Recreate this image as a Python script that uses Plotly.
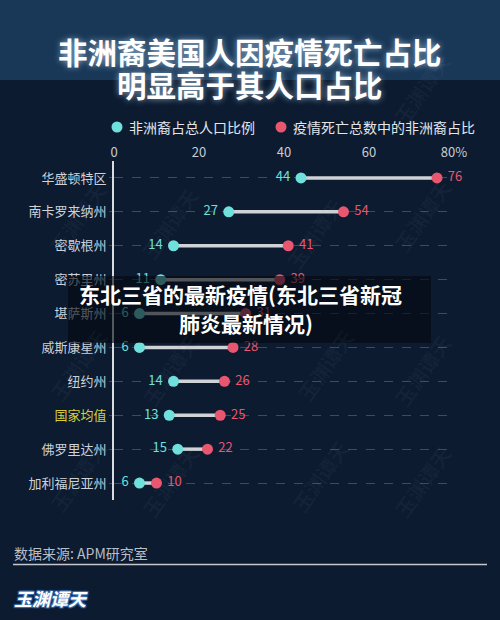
import plotly.graph_objects as go

# ---------------- data ----------------
states = ["华盛顿特区", "南卡罗来纳州", "密歇根州", "密苏里州", "堪萨斯州",
          "威斯康星州", "纽约州", "国家均值", "佛罗里达州", "加利福尼亚州"]
pop_share = [44, 27, 14, 11, 6, 6, 14, 13, 15, 6]          # 非洲裔占总人口比例
death_share = [76, 54, 41, 39, 31, 28, 26, 25, 22, 10]     # 疫情死亡总数中的非洲裔占比
x_tickvals = [0, 20, 40, 60, 80]
x_ticktext = ["0", "20", "40", "60", "80%"]
legend_names = ["非洲裔占总人口比例", "疫情死亡总数中的非洲裔占比"]
title_lines = ["非洲裔美国人因疫情死亡占比", "明显高于其人口占比"]
overlay_lines = ["东北三省的最新疫情(东北三省新冠", "肺炎最新情况)"]
source_text = "数据来源: APM研究室"
logo_text = "玉渊谭天"
highlight = "国家均值"

# ---------------- style ----------------
W, H = 500, 620
FONT = "Noto Sans CJK SC"
BG = "#0c1b30"
BAND = "#193757"
CYAN = "#6fe0dc"
RED = "#e9566f"
LINE = "#cfd2d6"
LABEL = "#cdd2d9"
YELLOW = "#d9cd3a"


def px(x):
    return x / W


def py(y):
    return 1 - y / H


fig = go.Figure()

# connectors
cx, cy = [], []
for s, a, b in zip(states, pop_share, death_share):
    cx += [a, b, None]
    cy += [s, s, None]
fig.add_trace(go.Scatter(x=cx, y=cy, mode="lines",
                         line=dict(color=LINE, width=3.5),
                         hoverinfo="skip", showlegend=False, cliponaxis=False))

fig.add_trace(go.Scatter(x=pop_share, y=states, mode="markers+text",
                         marker=dict(color=CYAN, size=11),
                         text=[str(v) + " " for v in pop_share],
                         textposition="middle left",
                         textfont=dict(family=FONT, size=13, color=CYAN),
                         name=legend_names[0], showlegend=False, cliponaxis=False))
fig.add_trace(go.Scatter(x=death_share, y=states, mode="markers+text",
                         marker=dict(color=RED, size=11),
                         text=[" " + str(v) for v in death_share],
                         textposition="middle right",
                         textfont=dict(family=FONT, size=13, color=RED),
                         name=legend_names[1], showlegend=False, cliponaxis=False))

ticktext_y = [f'<span style="color:{YELLOW}">{s}</span>' if s == highlight else s
              for s in states]

shapes = []
annotations = []

# title band
shapes.append(dict(type="rect", xref="paper", yref="paper",
                   x0=0, x1=1, y0=py(80), y1=1,
                   fillcolor=BAND, line=dict(width=0), layer="below"))

# watermarks (kept inside the page so they do not push the margins)
wm_pos = [(460, 45), (40, 175), (170, 180), (315, 190), (460, 215),
          (40, 365), (170, 370), (325, 365), (460, 370),
          (40, 520), (170, 525), (320, 520), (460, 525)]
for (x, y) in wm_pos:
    annotations.append(dict(x=px(x), y=py(y), xref="paper", yref="paper",
                            text=logo_text, showarrow=False, textangle=-55,
                            font=dict(family=FONT, size=20, color="rgba(140,160,190,0.06)",
                                      weight="bold")))

# title lines
for line, yy in zip(title_lines, [28, 61]):
    annotations.append(dict(x=0.5, y=py(yy), xref="paper", yref="paper",
                            text=line, showarrow=False,
                            font=dict(family=FONT, size=29.5, color="#ffffff", weight="bold",
                                      shadow="0px 0px 6px rgba(200,230,255,0.7)")))

# legend
for (cxp, txp, name, col) in [(117, 127, legend_names[0], CYAN),
                              (281, 291, legend_names[1], RED)]:
    shapes.append(dict(type="circle", xref="paper", yref="paper",
                       xsizemode="pixel", ysizemode="pixel",
                       xanchor=px(cxp), yanchor=py(127),
                       x0=-5.5, x1=5.5, y0=-5.5, y1=5.5,
                       fillcolor=col, line=dict(width=0)))
    annotations.append(dict(x=px(txp), y=py(127), xref="paper", yref="paper",
                            xanchor="left", yanchor="middle",
                            text=name, showarrow=False,
                            font=dict(family=FONT, size=14, color="#e2e6ea")))

# overlay box
shapes.append(dict(type="rect", xref="paper", yref="paper",
                   x0=px(68), x1=px(431), y0=py(343), y1=py(276),
                   fillcolor="rgba(3,8,14,0.62)", line=dict(width=0), layer="above"))
for line, (xx, yy) in zip(overlay_lines, [(240, 294), (246, 323)]):
    annotations.append(dict(x=px(xx), y=py(yy), xref="paper", yref="paper",
                            text=line, showarrow=False,
                            font=dict(family=FONT, size=21, color="#ffffff", weight="bold")))

# source + rule
annotations.append(dict(x=px(12), y=py(553), xref="paper", yref="paper",
                        xanchor="left", yanchor="middle", text=source_text,
                        showarrow=False,
                        font=dict(family=FONT, size=14, color="#b9bec6")))
shapes.append(dict(type="line", xref="paper", yref="paper",
                   x0=px(13), x1=px(487), y0=py(564.5), y1=py(564.5),
                   line=dict(color="#c4c8cd", width=1.5)))
# logo
annotations.append(dict(x=px(12), y=py(598), xref="paper", yref="paper",
                        xanchor="left", yanchor="middle", text=f"<i>{logo_text}</i>",
                        showarrow=False,
                        font=dict(family=FONT, size=18, color="#ffffff", weight="bold",
                                  shadow="1px 1px 1px #3a6fb0, -1px -1px 1px #3a6fb0, 1px -1px 1px #3a6fb0, -1px 1px 1px #3a6fb0")))

fig.update_layout(
    width=W, height=H,
    margin=dict(l=0, r=0, t=0, b=0, autoexpand=False),
    paper_bgcolor=BG, plot_bgcolor="rgba(0,0,0,0)",
    showlegend=False,
    shapes=shapes, annotations=annotations,
    font=dict(family=FONT),
    xaxis=dict(domain=[px(114), px(454)], range=[0, 80], side="top",
               tickvals=x_tickvals, ticktext=x_ticktext,
               showgrid=False, zeroline=False, showline=False, ticks="",
               tickfont=dict(family=FONT, size=13, color="#c9cdd3"),
               fixedrange=True, automargin=False),
    yaxis=dict(domain=[py(500), py(161)], type="category",
               categoryorder="array", categoryarray=states,
               range=[9.5, -0.5],
               tickvals=states, ticktext=ticktext_y,
               showline=True, linecolor="#d8dce0", linewidth=2,
               showgrid=True, gridcolor="rgba(120,135,155,0.45)", griddash="dash", gridwidth=1,
               ticks="outside", ticklen=3, tickcolor="rgba(120,135,155,0.45)",
               tickfont=dict(family=FONT, size=13, color=LABEL),
               zeroline=False, fixedrange=True, automargin=False),
)

fig.write_html(
    "out.html", config={"displayModeBar": False},
    post_script=("document.body.style.margin='0';"
                 "document.body.style.overflow='hidden';"
                 "document.documentElement.style.overflow='hidden';"
                 f"document.body.style.background='{BG}';"),
)
